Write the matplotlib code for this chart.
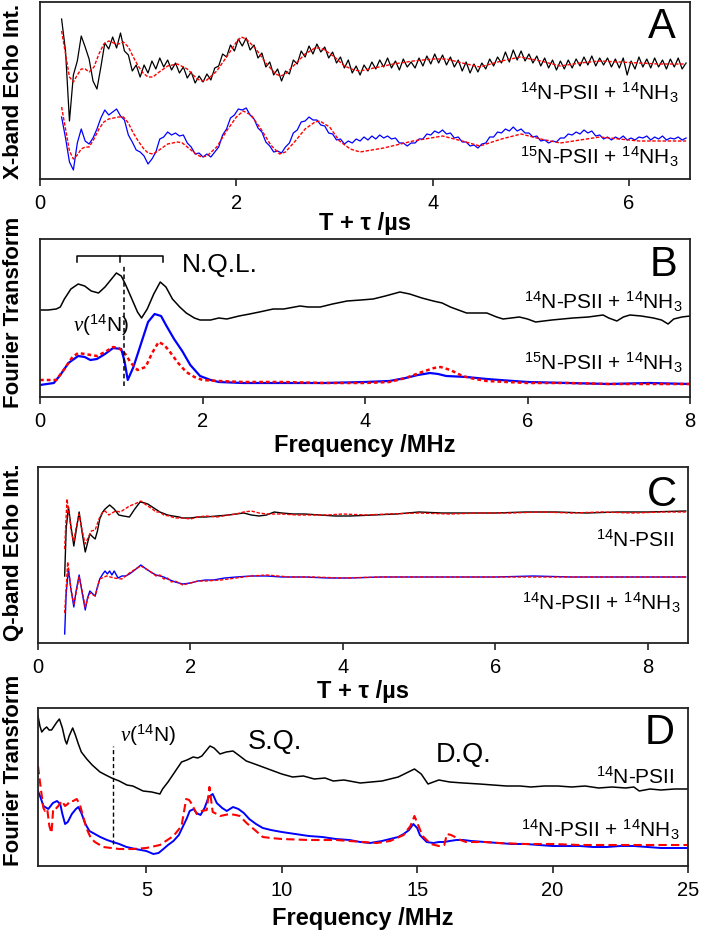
import numpy as np
import matplotlib
matplotlib.use("Agg")
import matplotlib.pyplot as plt

plt.rcParams['font.family'] = ['Liberation Sans', 'DejaVu Sans']
plt.rcParams['mathtext.fontset'] = 'custom'
plt.rcParams['mathtext.rm'] = 'Liberation Sans'
plt.rcParams['mathtext.it'] = 'Liberation Serif:italic'
plt.rcParams['mathtext.bf'] = 'Liberation Sans:bold'

# ---------------- panel A : X-band three-pulse ESEEM ----------------
# 14N-PSII + 14NH3 trace, sampled every 0.04 us from 0.22 us
a_black = [160, 128, 58, 104, 118, 143, 132, 120, 98, 90,
           112, 136, 130, 142, 131, 146, 128, 124, 108, 114,
           102, 114, 106, 118, 110, 121, 112, 119, 109, 116,
           106, 112, 101, 107, 96, 103, 97, 105, 99, 111,
           113, 125, 122, 134, 128, 140, 133, 141, 129, 134,
           121, 126, 112, 117, 104, 110, 98, 108, 105, 119,
           115, 128, 122, 133, 125, 135, 127, 132, 121, 127,
           116, 122, 111, 119, 106, 113, 104, 114, 108, 117,
           110, 119, 112, 121, 111, 118, 109, 120, 112, 117,
           111, 121, 113, 123, 115, 125, 116, 124, 114, 122,
           112, 119, 108, 117, 106, 115, 107, 116, 110, 120,
           113, 122, 116, 127, 117, 129, 119, 128, 118, 125,
           116, 123, 113, 121, 111, 119, 109, 118, 110, 119,
           111, 120, 113, 122, 114, 123, 113, 121, 114, 121,
           112, 120, 111, 121, 104, 118, 110, 122, 112, 120,
           111, 121, 112, 119, 110, 120, 112, 121, 110, 116]
# 15N-PSII + 14NH3 trace, same sampling
a_blue = [62, 41, 17, 9, 36, 50, 38, 35, 41, 50,
          61, 69, 64, 67, 70, 63, 59, 44, 37, 29,
          27, 23, 15, 20, 27, 40, 42, 47, 44, 46,
          43, 44, 36, 32, 25, 26, 22, 25, 22, 27,
          32, 44, 50, 61, 64, 70, 69, 71, 64, 60,
          51, 47, 37, 33, 27, 28, 26, 32, 36, 46,
          49, 57, 58, 62, 59, 59, 54, 53, 46, 45,
          39, 40, 35, 38, 36, 40, 38, 42, 39, 43,
          40, 44, 41, 43, 40, 41, 36, 36, 33, 36,
          36, 40, 40, 45, 44, 48, 46, 49, 45, 46,
          41, 42, 37, 37, 33, 34, 31, 35, 36, 42,
          42, 47, 46, 50, 48, 52, 48, 50, 46, 46,
          42, 43, 38, 39, 36, 38, 37, 41, 41, 45,
          44, 47, 45, 49, 46, 48, 43, 44, 40, 42,
          39, 42, 40, 43, 39, 41, 39, 42, 41, 43,
          39, 42, 40, 43, 39, 41, 40, 42, 39, 41]
a_fit1_t = [0.22, 0.26, 0.30, 0.34, 0.38, 0.42, 0.46, 0.50, 0.55, 0.60,
            0.65, 0.70, 0.75, 0.80, 0.85, 0.90, 0.95, 1.0, 1.05, 1.10,
            1.15, 1.2, 1.3, 1.4, 1.5, 1.6, 1.65, 1.7, 1.8, 1.9,
            2.0, 2.05, 2.1, 2.2, 2.3, 2.4, 2.45, 2.5, 2.6, 2.7,
            2.8, 2.85, 2.9, 3.0, 3.1, 3.2, 3.26, 3.4, 3.6, 3.8,
            4.0, 4.14, 4.3, 4.48, 4.7, 4.89, 5.1, 5.3, 5.5, 5.7,
            5.9, 6.1, 6.3, 6.58]
a_fit1 = [148, 125, 102, 97, 104, 110, 110, 107, 112, 125,
          135, 138, 136, 135, 137, 132, 122, 113, 106, 102,
          102, 106, 113, 115, 110, 100, 98, 99, 108, 122,
          137, 142, 140, 130, 116, 105, 103, 105, 115, 125,
          131, 131, 129, 122, 113, 109, 108, 111, 115, 118,
          120, 120, 116, 112, 118, 122, 118, 113, 116, 118,
          117, 116, 115, 115]
a_fit2_t = [0.22, 0.26, 0.30, 0.34, 0.38, 0.42, 0.46, 0.50, 0.55, 0.60,
            0.65, 0.70, 0.75, 0.80, 0.85, 0.90, 0.95, 1.0, 1.05, 1.10,
            1.15, 1.2, 1.3, 1.4, 1.45, 1.5, 1.6, 1.65, 1.7, 1.8,
            1.9, 2.0, 2.07, 2.15, 2.25, 2.35, 2.44, 2.5, 2.6, 2.7,
            2.8, 2.85, 2.95, 3.05, 3.16, 3.26, 3.5, 3.8, 4.1, 4.3,
            4.48, 4.7, 4.9, 5.1, 5.3, 5.5, 5.7, 5.9, 6.1, 6.3, 6.58]
a_fit2 = [72, 50, 28, 20, 24, 30, 32, 32, 40, 50,
          57, 60, 61, 62, 62, 56, 46, 38, 31, 26,
          25, 28, 35, 37, 36, 32, 24, 22, 23, 32,
          48, 62, 68, 64, 50, 34, 25, 27, 38, 50,
          57, 58, 52, 38, 30, 27, 31, 38, 43, 38,
          33, 40, 45, 40, 36, 39, 42, 40, 38, 38, 38]

# ---------------- panel B : X-band Fourier transform ----------------
b_black_f = [0, 0.1, 0.2, 0.25, 0.3, 0.38, 0.47, 0.55, 0.63, 0.72,
             0.8, 0.88, 0.94, 1.0, 1.05, 1.12, 1.2, 1.25, 1.32, 1.4,
             1.48, 1.55, 1.63, 1.72, 1.8, 1.9, 1.97, 2.1, 2.2, 2.3,
             2.45, 2.58, 2.7, 2.87, 3.0, 3.2, 3.3, 3.45, 3.6, 3.78,
             3.95, 4.1, 4.25, 4.43, 4.55, 4.7, 4.84, 4.95, 5.05, 5.25,
             5.4, 5.5, 5.62, 5.7, 5.8, 5.9, 6.0, 6.1, 6.3, 6.56,
             6.75, 6.93, 7.0, 7.1, 7.18, 7.26, 7.4, 7.55, 7.65, 7.73,
             7.8, 7.9, 8.0]
b_black = [87, 87, 88, 90, 98, 108, 113, 111, 106, 104,
           110, 118, 124, 121, 113, 100, 85, 79, 88, 103,
           115, 110, 98, 90, 84, 79, 77, 77, 79, 78,
           81, 83, 85, 88, 88, 91, 90, 90, 93, 96,
           97, 98, 101, 105, 103, 99, 96, 94, 90, 84,
           84, 84, 80, 78, 79, 80, 78, 75, 77, 79,
           80, 82, 79, 76, 80, 82, 81, 79, 77, 73,
           78, 80, 81]
b_blue_f = [0, 0.17, 0.25, 0.35, 0.47, 0.55, 0.62, 0.7, 0.8, 0.9,
            1.0, 1.04, 1.08, 1.15, 1.25, 1.33, 1.41, 1.49, 1.55, 1.65,
            1.75, 1.85, 1.97, 2.1, 2.2, 2.5, 3.0, 3.5, 4.0, 4.3,
            4.5, 4.65, 4.8, 4.9, 5.0, 5.25, 5.5, 5.66, 6.0, 6.5,
            7.0, 7.5, 8.0]
b_blue = [12, 14, 22, 34, 41, 40, 37, 38, 43, 49,
          48, 36, 17, 30, 55, 75, 83, 81, 72, 58,
          46, 32, 21, 17, 15, 14, 14, 14, 15, 16,
          19, 22, 24, 23, 21, 20, 18, 17, 15, 14,
          13, 14, 13]
b_fit_f = [0, 0.2, 0.3, 0.4, 0.47, 0.55, 0.7, 0.8, 0.9, 0.97,
           1.05, 1.12, 1.2, 1.3, 1.38, 1.46, 1.53, 1.6, 1.7, 1.8,
           1.9, 2.0, 2.2, 2.5, 3.0, 3.5, 4.0, 4.3, 4.5, 4.7,
           4.85, 4.93, 5.05, 5.2, 5.35, 5.5, 6.0, 6.5, 7.0, 7.5, 8.0]
b_fit = [17, 17, 28, 40, 44, 43, 41, 45, 50, 49,
         43, 34, 27, 30, 44, 55, 52, 45, 34, 25,
         20, 17, 16, 15, 15, 14, 14, 15, 19, 25,
         29, 30, 27, 21, 18, 16, 14, 14, 13, 13, 13]

# ---------------- panel C : Q-band three-pulse ESEEM ----------------
c_black_t = [0.35, 0.37, 0.40, 0.43, 0.47, 0.50, 0.54, 0.58, 0.62, 0.65,
             0.68, 0.72, 0.75, 0.78, 0.81, 0.85, 0.88, 0.94, 1.0, 1.06,
             1.12, 1.2, 1.27, 1.34, 1.4, 1.44, 1.5, 1.6, 1.7, 1.77,
             1.85, 1.9, 2.0, 2.1, 2.2, 2.35, 2.5, 2.6, 2.7, 2.8,
             2.9, 3.0, 3.1, 3.2, 3.35, 3.5, 3.7, 3.9, 4.1, 4.4,
             4.7, 5.0, 5.3, 5.6, 6.0, 6.4, 6.8, 7.2, 7.6, 8.0, 8.5]
c_black = [67, 115, 136, 118, 97, 112, 131, 110, 91, 100,
           109, 106, 104, 112, 124, 131, 134, 138, 134, 128,
           127, 126, 134, 141, 140, 139, 136, 131, 128, 127,
           126, 125, 125, 126, 126, 127, 128, 129, 130, 128,
           127, 128, 131, 130, 129, 129, 128, 127, 127, 128,
           129, 131, 130, 130, 130, 131, 131, 130, 131, 131, 132]
c_fit1_t = [0.35, 0.38, 0.41, 0.44, 0.47, 0.50, 0.54, 0.58, 0.62, 0.65,
            0.70, 0.75, 0.80, 0.84, 0.88, 0.93, 0.97, 1.02, 1.08, 1.14,
            1.2, 1.27, 1.35, 1.42, 1.5, 1.55, 1.6, 1.65, 1.72, 1.8,
            1.9, 2.0, 2.1, 2.2, 2.35, 2.5, 2.6, 2.7, 2.8, 2.9,
            3.0, 3.2, 3.4, 3.6, 3.8, 4.0, 4.3, 4.6, 5.0, 5.4,
            5.8, 6.2, 6.6, 7.0, 7.4, 7.8, 8.2, 8.5]
c_fit1 = [94, 144, 128, 110, 102, 115, 129, 112, 99, 104,
          112, 113, 124, 130, 132, 128, 130, 132, 131, 134,
          137, 139, 142, 138, 134, 131, 131, 128, 127, 125,
          125, 124, 126, 127, 126, 128, 129, 131, 132, 130,
          129, 129, 128, 128, 128, 129, 128, 129, 130, 129,
          130, 130, 131, 130, 131, 130, 131, 131]
c_blue_t = [0.35, 0.37, 0.40, 0.43, 0.47, 0.50, 0.54, 0.58, 0.62, 0.65,
            0.68, 0.72, 0.75, 0.78, 0.81, 0.85, 0.88, 0.91, 0.94, 0.97,
            1.0, 1.05, 1.1, 1.15, 1.2, 1.27, 1.35, 1.42, 1.5, 1.55,
            1.6, 1.65, 1.7, 1.8, 1.9, 2.0, 2.1, 2.2, 2.3, 2.45,
            2.6, 2.8, 3.0, 3.2, 3.5, 3.8, 4.1, 4.5, 5.0, 5.5,
            6.0, 6.5, 7.0, 7.5, 8.0, 8.5]
c_blue = [9, 50, 74, 55, 36, 52, 68, 50, 33, 45,
          52, 49, 47, 56, 64, 69, 72, 69, 72, 68,
          72, 65, 67, 67, 69, 73, 78, 74, 70, 68,
          67, 66, 64, 61, 59, 60, 62, 63, 63, 65,
          66, 67, 67, 66, 66, 65, 65, 66, 66, 66,
          66, 67, 66, 66, 66, 66]
c_fit2_t = [0.35, 0.39, 0.43, 0.47, 0.50, 0.54, 0.58, 0.62, 0.65, 0.68,
            0.75, 0.81, 0.9, 1.0, 1.1, 1.2, 1.28, 1.35, 1.42, 1.5,
            1.55, 1.6, 1.65, 1.7, 1.75, 1.8, 1.9, 2.0, 2.1, 2.2,
            2.4, 2.6, 2.8, 3.0, 3.3, 3.6, 4.0, 4.5, 5.0, 5.5,
            6.0, 6.5, 7.0, 7.5, 8.0, 8.5]
c_fit2 = [30, 81, 55, 39, 50, 66, 52, 36, 44, 50,
          47, 64, 67, 65, 64, 70, 74, 77, 74, 70,
          67, 68, 64, 65, 61, 62, 58, 60, 62, 62,
          63, 65, 67, 68, 66, 66, 65, 66, 66, 66,
          66, 66, 66, 66, 66, 66]

# ---------------- panel D : Q-band Fourier transform ----------------
d_black_f = [1.0, 1.07, 1.14, 1.23, 1.32, 1.41, 1.5, 1.6, 1.7, 1.79,
             1.9, 2.0, 2.06, 2.15, 2.28, 2.38, 2.49, 2.6, 2.8, 3.0,
             3.29, 3.5, 3.72, 4.0, 4.28, 4.5, 4.88, 5.2, 5.5, 5.6,
             5.8, 6.0, 6.15, 6.3, 6.5, 6.73, 6.9, 7.05, 7.2, 7.35,
             7.5, 7.72, 7.95, 8.2, 8.4, 8.69, 9.0, 9.3, 9.6, 10.0,
             10.4, 10.8, 11.2, 11.6, 11.9, 12.3, 12.9, 13.3, 13.7, 14.0,
             14.3, 14.6, 14.9, 15.15, 15.4, 15.6, 15.8, 16.2, 16.7, 17.3,
             17.8, 18.3, 18.8, 19.2, 19.7, 20.2, 20.7, 21.2, 21.7, 22.2,
             22.7, 23.0, 23.2, 23.6, 24.0, 24.5, 25.0]
d_black = [150, 140, 134, 137, 139, 136, 136, 140, 144, 147,
           138, 126, 122, 130, 138, 131, 122, 114, 107, 101,
           94, 91, 88, 85, 81, 80, 75, 74, 72, 77,
           84, 92, 98, 104, 106, 109, 108, 110, 115, 120,
           118, 112, 114, 115, 111, 105, 102, 99, 96, 92,
           89, 90, 87, 88, 85, 86, 83, 84, 85, 87,
           89, 93, 97, 92, 82, 84, 86, 84, 83, 82,
           81, 80, 80, 79, 80, 80, 79, 80, 78, 79,
           78, 79, 75, 77, 76, 77, 77]
d_blue_f = [1.0, 1.1, 1.2, 1.38, 1.55, 1.7, 1.82, 1.9, 2.0, 2.1,
            2.25, 2.4, 2.49, 2.6, 2.75, 2.9, 3.1, 3.3, 3.55, 3.77,
            4.0, 4.27, 4.6, 5.0, 5.26, 5.45, 5.63, 5.8, 6.0, 6.2,
            6.36, 6.5, 6.6, 6.75, 6.85, 7.0, 7.15, 7.3, 7.45, 7.6,
            7.8, 7.97, 8.2, 8.4, 8.6, 8.8, 9.05, 9.3, 9.6, 10.0,
            10.5, 11.0, 11.5, 12.0, 12.5, 12.9, 13.26, 13.7, 14.0, 14.3,
            14.5, 14.7, 14.86, 15.0, 15.1, 15.35, 15.6, 15.8, 16.0, 16.2,
            16.45, 16.7, 17.0, 17.5, 18.0, 18.5, 19.0, 19.5, 20.0, 20.5,
            21.0, 21.5, 22.0, 22.5, 23.0, 23.5, 24.0, 24.5, 25.0]
d_blue = [75, 68, 60, 57, 63, 65, 62, 52, 42, 44,
          52, 57, 59, 53, 42, 35, 32, 29, 26, 24,
          22, 19, 17, 15, 12, 13, 17, 21, 25, 31,
          40, 48, 55, 57, 53, 51, 58, 69, 72, 63,
          58, 55, 59, 57, 53, 47, 42, 38, 36, 34,
          32, 30, 29, 27, 26, 24, 23, 25, 27, 29,
          32, 36, 42, 38, 31, 24, 23, 24, 24, 25,
          26, 26, 25, 24, 23, 22, 22, 21, 20, 20,
          20, 19, 19, 20, 20, 19, 18, 18, 18]
d_fit_f = [1.0, 1.1, 1.2, 1.26, 1.34, 1.42, 1.5, 1.56, 1.65, 1.75,
           1.88, 2.0, 2.1, 2.18, 2.3, 2.43, 2.55, 2.68, 2.8, 2.95,
           3.1, 3.41, 4.0, 4.5, 5.0, 5.5, 6.0, 6.3, 6.47, 6.58,
           6.68, 6.86, 7.05, 7.23, 7.33, 7.45, 7.6, 7.72, 7.9, 8.08,
           8.3, 8.45, 8.7, 9.05, 9.3, 9.6, 10.0, 11.0, 12.0, 13.0,
           13.5, 14.0, 14.5, 14.75, 14.9, 15.05, 15.2, 15.5, 15.8, 16.0,
           16.1, 16.25, 16.4, 16.6, 16.8, 17.5, 18.0, 19.0, 20.0, 21.0,
           22.0, 23.0, 24.0, 25.0]
d_fit = [100, 78, 58, 55, 57, 40, 33, 57, 57, 60,
         65, 60, 62, 65, 65, 67, 61, 48, 37, 28,
         24, 19, 17, 17, 18, 21, 30, 40, 67, 66,
         62, 52, 55, 56, 79, 54, 52, 50, 51, 52,
         51, 50, 43, 35, 29, 28, 27, 26, 26, 24,
         23, 25, 31, 40, 50, 40, 30, 22, 20, 21,
         32, 31, 29, 26, 24, 24, 23, 22, 22, 21,
         21, 21, 21, 21]

lab_14_14 = r"$^{14}$N-PSII + $^{14}$NH$_3$"
lab_15_14 = r"$^{15}$N-PSII + $^{14}$NH$_3$"
lab_14 = r"$^{14}$N-PSII"
lab_nu = r"$\nu$($^{14}$N)"

W, H = 705, 937
fig = plt.figure(figsize=(W / 100, H / 100), dpi=100)


def make_ax(l, t, r, b):
    ax = fig.add_axes([l / W, 1 - b / H, (r - l) / W, (b - t) / H])
    for s in ax.spines.values():
        s.set_color('#222222')
        s.set_linewidth(1.3)
    ax.set_yticks([])
    ax.tick_params(axis='x', direction='out', length=5, width=1.2,
                   labelsize=14.5, pad=5, color='#222222')
    ax.set_ylim(0, b - t)
    return ax


axA = make_ax(40, 3, 690, 180)
axB = make_ax(40, 240, 690, 398)
axC = make_ax(38, 468, 688, 644)
axD = make_ax(38, 709, 688, 867)

red_fine = dict(color='red', lw=1.0, ls=(0, (2.5, 1.2)))
xlab_kw = dict(fontsize=17, fontweight='bold')
ylab_kw = dict(fontsize=16, fontweight='bold')

# A
tA = np.linspace(0.22, 6.58, len(a_black))
axA.plot(tA, a_black, color='black', lw=0.9)
axA.plot(np.linspace(0.22, 6.58, len(a_blue)), a_blue, color='#0000ff', lw=0.9)
axA.plot(a_fit1_t, a_fit1, **red_fine)
axA.plot(a_fit2_t, a_fit2, **red_fine)
axA.set_xlim(0, 6.62)
axA.set_xticks([0, 2, 4, 6])
axA.text(6.33, 153, 'A', fontsize=30, ha='center', va='center')
axA.text(6.50, 87, lab_14_14, fontsize=15, ha='right', va='center')
axA.text(6.50, 23, lab_15_14, fontsize=15, ha='right', va='center')
axA.set_xlabel('T + τ /µs', **xlab_kw)
axA.xaxis.set_label_coords(0.5, -0.18)
axA.set_ylabel('X-band Echo Int.', **ylab_kw)
axA.yaxis.set_label_coords(-0.025, 0.50)

# B
axB.plot(b_black_f, b_black, color='black', lw=1.1)
axB.plot(b_blue_f, b_blue, color='#0000ff', lw=1.6)
axB.plot(b_fit_f, b_fit, color='red', lw=1.8, ls=(0, (1.5, 1.2)))
axB.plot([1.03, 1.03], [11, 132], color='black', lw=1.1, ls=(0, (3, 2)))
axB.plot([0.45, 0.45, 1.51, 1.51], [135, 141, 141, 135], color='black', lw=1.1)
axB.plot([0.98, 0.98], [141, 135], color='black', lw=1.1)
axB.text(1.75, 133, 'N.Q.L.', fontsize=19, ha='left', va='center')
axB.text(0.41, 73, lab_nu, fontsize=15, ha='left', va='center')
axB.set_xlim(0, 8)
axB.set_xticks([0, 2, 4, 6, 8])
axB.text(7.67, 133, 'B', fontsize=30, ha='center', va='center')
axB.text(7.91, 96, lab_14_14, fontsize=15, ha='right', va='center')
axB.text(7.91, 35, lab_15_14, fontsize=15, ha='right', va='center')
axB.set_xlabel('Frequency /MHz', **xlab_kw)
axB.xaxis.set_label_coords(0.5, -0.228)
axB.set_ylabel('Fourier Transform', **ylab_kw)
axB.yaxis.set_label_coords(-0.025, 0.54)

# C
axC.plot(c_black_t, c_black, color='black', lw=1.0)
axC.plot(c_fit1_t, c_fit1, **red_fine)
axC.plot(c_blue_t, c_blue, color='#0000ff', lw=1.0)
axC.plot(c_fit2_t, c_fit2, **red_fine)
axC.set_xlim(0, 8.53)
axC.set_xticks([0, 2, 4, 6, 8])
axC.text(8.19, 149, 'C', fontsize=30, ha='center', va='center')
axC.text(8.35, 104, lab_14, fontsize=15, ha='right', va='center')
axC.text(8.43, 41, lab_14_14, fontsize=15, ha='right', va='center')
axC.set_xlabel('T + τ /µs', **xlab_kw)
axC.xaxis.set_label_coords(0.5, -0.205)
axC.set_ylabel('Q-band Echo Int.', **ylab_kw)
axC.yaxis.set_label_coords(-0.022, 0.52)

# D
axD.plot(d_black_f, d_black, color='black', lw=1.1)
axD.plot(d_blue_f, d_blue, color='#0000ff', lw=1.4)
axD.plot(d_fit_f, d_fit, color='red', lw=1.5, ls=(0, (4, 2)))
axD.plot([3.78, 3.78], [22, 120], color='black', lw=1.0, ls=(0, (3, 2)))
axD.text(4.03, 132, lab_nu, fontsize=15, ha='left', va='center')
axD.text(8.75, 125, 'S.Q.', fontsize=19.5, ha='left', va='center')
axD.text(15.7, 112, 'D.Q.', fontsize=19.5, ha='left', va='center')
axD.set_xlim(1, 25)
axD.set_xticks([5, 10, 15, 20, 25])
axD.text(23.97, 134, 'D', fontsize=30, ha='center', va='center')
axD.text(24.49, 90, lab_14, fontsize=15, ha='right', va='center')
axD.text(24.7, 37, lab_14_14, fontsize=15, ha='right', va='center')
axD.set_xlabel('Frequency /MHz', **xlab_kw)
axD.xaxis.set_label_coords(0.5, -0.253)
axD.set_ylabel('Fourier Transform', **ylab_kw)
axD.yaxis.set_label_coords(-0.022, 0.61)

fig.savefig('out.png', dpi=100)
